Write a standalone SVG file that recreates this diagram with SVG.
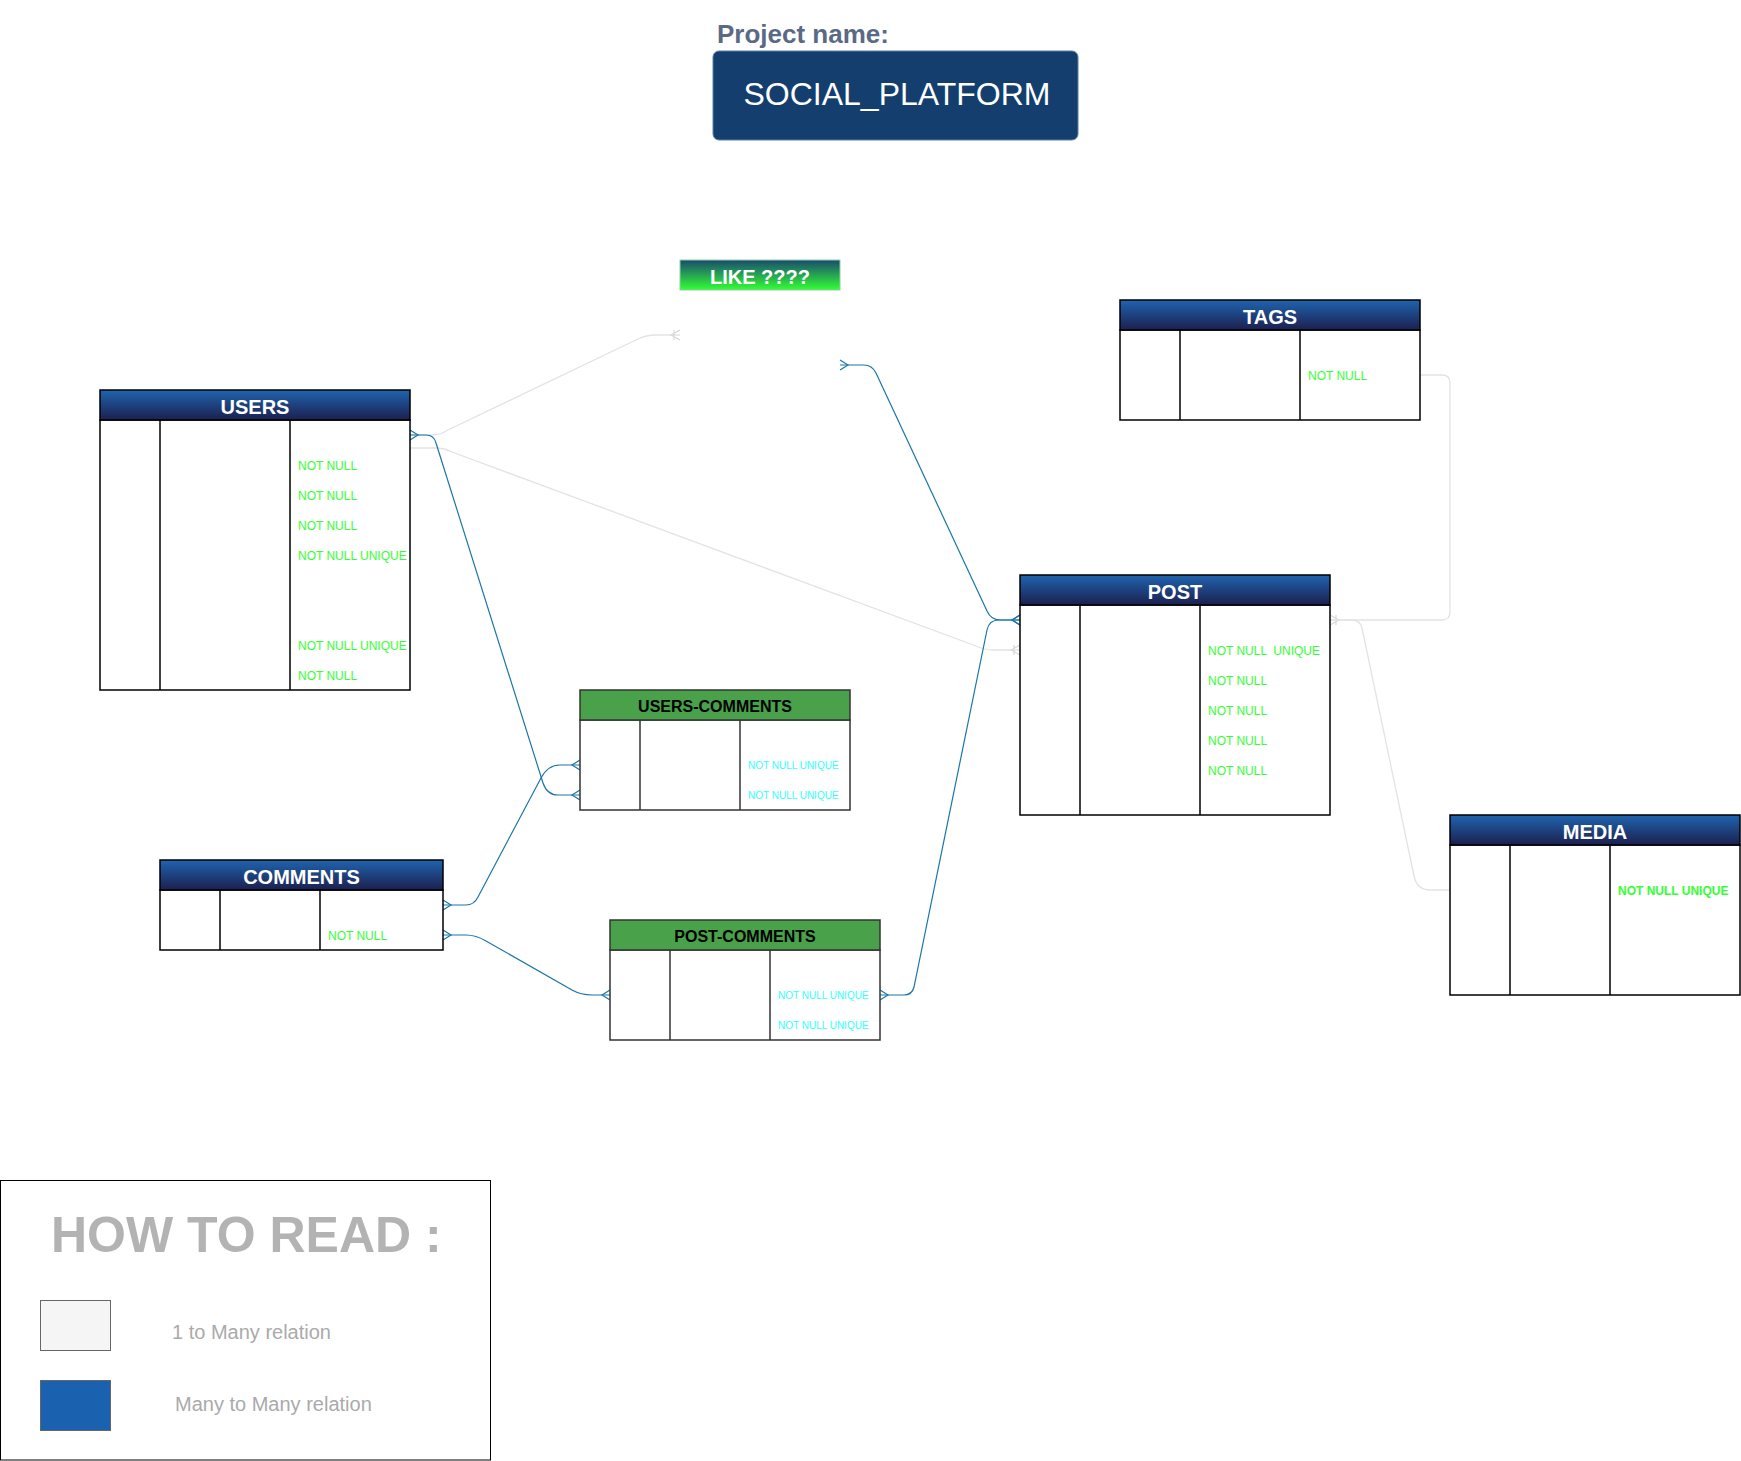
<svg xmlns="http://www.w3.org/2000/svg" width="1741" height="1461" viewBox="0 0 1741 1461">
<style>
text{font-family:"Liberation Sans",Arial,Helvetica,sans-serif}
.hdr{fill:url(#hg);stroke:#000;stroke-width:1.5}
.body{fill:#fff;stroke:#000;stroke-width:1.5}
.col{stroke:#000;stroke-width:1.5}
.ghdr{fill:#49a14a;stroke:#333;stroke-width:1.5}
.gbody{fill:#fff;stroke:#333;stroke-width:1.5}
.gcol{stroke:#333;stroke-width:1.5}
.ht{fill:#fff;font-weight:bold;font-size:20px;text-anchor:middle}
.gt{fill:#000;font-weight:bold;font-size:16px;text-anchor:middle}
.nn{fill:#33ff33;font-size:12px}
.cy{fill:#33ffff;font-size:10px}
.blue{fill:none;stroke:#1a76a6;stroke-width:1.2}
.gray{fill:none;stroke:#e3e3e3;stroke-width:1.3}
</style>
<defs>
<linearGradient id="hg" x1="0" y1="0" x2="0" y2="1">
<stop offset="0" stop-color="#1f64ae"/>
<stop offset="1" stop-color="#1c1f4f"/>
</linearGradient>
<linearGradient id="lg" x1="0" y1="0" x2="0" y2="1">
<stop offset="0" stop-color="#1a4a70"/>
<stop offset="1" stop-color="#33ff33"/>
</linearGradient>
<marker id="mb" viewBox="-12 -7 14 14" markerWidth="14" markerHeight="14" refX="0" refY="0" orient="auto-start-reverse" markerUnits="userSpaceOnUse">
<path d="M0,-5 L-8,0 L0,5" fill="none" stroke="#1a76a6" stroke-width="1.2"/>
</marker>
<marker id="mg" viewBox="-12 -7 14 14" markerWidth="14" markerHeight="14" refX="0" refY="0" orient="auto-start-reverse" markerUnits="userSpaceOnUse">
<path d="M0,-5 L-9,0 L0,5 M-6,-5 L-6,5" fill="none" stroke="#d8d8d8" stroke-width="1.2"/>
</marker>
</defs>
<rect width="1741" height="1461" fill="#fff"/>

<g id="title">
<text x="717" y="43" font-size="26" font-weight="bold" fill="#5a6a86">Project name:</text>
<rect x="713" y="51" width="365" height="89" rx="6" fill="#133e6d" stroke="#5f7fa8" stroke-width="1"/>
<text x="897" y="105" font-size="32" fill="#fff" text-anchor="middle">SOCIAL_PLATFORM</text>
</g>

<g id="connectors">
<path class="gray" d="M410,435 L432,435 Q440,435 448,430 L638,339 Q646,335 656,335 L680,335" marker-end="url(#mg)"/>
<path class="gray" d="M410,448 L436,448 Q444,448 452,452 L976,646 Q984,650 994,650 L1020,650" marker-end="url(#mg)"/>
<path class="gray" d="M1420,375 L1442,375 Q1450,375 1450,383 L1450,612 Q1450,620 1442,620 L1330,620" marker-end="url(#mg)"/>
<path class="gray" d="M1330,620 L1352,620 Q1360,620 1362,628 L1414,876 Q1417,890 1430,890 L1450,890"/>
<path class="blue" d="M410,435 L426,435 Q434,435 436,443 L543,783 Q547,795 558,795 L580,795" marker-start="url(#mb)" marker-end="url(#mb)"/>
<path class="blue" d="M443,905 L466,905 Q474,905 478,897 L541,778 Q548,765 560,765 L580,765" marker-start="url(#mb)" marker-end="url(#mb)"/>
<path class="blue" d="M443,935 L466,935 Q476,935 486,941 L572,990 Q581,995 592,995 L610,995" marker-start="url(#mb)" marker-end="url(#mb)"/>
<path class="blue" d="M880,995 L904,995 Q912,995 914,987 L987,630 Q989,620 999,620 L1020,620" marker-start="url(#mb)" marker-end="url(#mb)"/>
<path class="blue" d="M840,365 L864,365 Q872,365 876,373 L987,611 Q991,620 1000,620 L1020,620" marker-start="url(#mb)" marker-end="url(#mb)"/>
</g>

<g id="like">
<rect x="680" y="260" width="160" height="30" fill="url(#lg)" stroke="#8fcfa0" stroke-width="1"/>
<text x="760" y="284" font-size="20" font-weight="bold" fill="#fff" text-anchor="middle">LIKE ????</text>
</g>

<g id="users">
<rect class="body" x="100" y="420" width="310" height="270"/>
<rect class="hdr" x="100" y="390" width="310" height="30"/>
<line class="col" x1="160" y1="420" x2="160" y2="690"/>
<line class="col" x1="290" y1="420" x2="290" y2="690"/>
<text class="ht" x="255" y="413.5">USERS</text>
<text class="nn" x="298" y="470">NOT NULL</text>
<text class="nn" x="298" y="500">NOT NULL</text>
<text class="nn" x="298" y="530">NOT NULL</text>
<text class="nn" x="298" y="560">NOT NULL UNIQUE</text>
<text class="nn" x="298" y="650">NOT NULL UNIQUE</text>
<text class="nn" x="298" y="680">NOT NULL</text>
</g>

<g id="tags">
<rect class="body" x="1120" y="330" width="300" height="90"/>
<rect class="hdr" x="1120" y="300" width="300" height="30"/>
<line class="col" x1="1180" y1="330" x2="1180" y2="420"/>
<line class="col" x1="1300" y1="330" x2="1300" y2="420"/>
<text class="ht" x="1270" y="323.5">TAGS</text>
<text class="nn" x="1308" y="380">NOT NULL</text>
</g>

<g id="post">
<rect class="body" x="1020" y="605" width="310" height="210"/>
<rect class="hdr" x="1020" y="575" width="310" height="30"/>
<line class="col" x1="1080" y1="605" x2="1080" y2="815"/>
<line class="col" x1="1200" y1="605" x2="1200" y2="815"/>
<text class="ht" x="1175" y="598.5">POST</text>
<text class="nn" x="1208" y="655" xml:space="preserve">NOT NULL  UNIQUE</text>
<text class="nn" x="1208" y="685">NOT NULL</text>
<text class="nn" x="1208" y="715">NOT NULL</text>
<text class="nn" x="1208" y="745">NOT NULL</text>
<text class="nn" x="1208" y="775">NOT NULL</text>
</g>

<g id="users-comments">
<rect class="gbody" x="580" y="720" width="270" height="90"/>
<rect class="ghdr" x="580" y="690" width="270" height="30"/>
<line class="gcol" x1="640" y1="720" x2="640" y2="810"/>
<line class="gcol" x1="740" y1="720" x2="740" y2="810"/>
<text class="gt" x="715" y="712">USERS-COMMENTS</text>
<text class="cy" x="748" y="769">NOT NULL UNIQUE</text>
<text class="cy" x="748" y="799">NOT NULL UNIQUE</text>
</g>

<g id="comments">
<rect class="body" x="160" y="890" width="283" height="60"/>
<rect class="hdr" x="160" y="860" width="283" height="30"/>
<line class="col" x1="220" y1="890" x2="220" y2="950"/>
<line class="col" x1="320" y1="890" x2="320" y2="950"/>
<text class="ht" x="301.5" y="883.5">COMMENTS</text>
<text class="nn" x="328" y="940">NOT NULL</text>
</g>

<g id="post-comments">
<rect class="gbody" x="610" y="950" width="270" height="90"/>
<rect class="ghdr" x="610" y="920" width="270" height="30"/>
<line class="gcol" x1="670" y1="950" x2="670" y2="1040"/>
<line class="gcol" x1="770" y1="950" x2="770" y2="1040"/>
<text class="gt" x="745" y="942">POST-COMMENTS</text>
<text class="cy" x="778" y="999">NOT NULL UNIQUE</text>
<text class="cy" x="778" y="1029">NOT NULL UNIQUE</text>
</g>

<g id="media">
<rect class="body" x="1450" y="845" width="290" height="150"/>
<rect class="hdr" x="1450" y="815" width="290" height="30"/>
<line class="col" x1="1510" y1="845" x2="1510" y2="995"/>
<line class="col" x1="1610" y1="845" x2="1610" y2="995"/>
<text class="ht" x="1595" y="838.5">MEDIA</text>
<text class="nn" x="1618" y="895" font-weight="bold">NOT NULL UNIQUE</text>
</g>

<g id="legend">
<rect x="0.5" y="1180.5" width="490" height="279.5" fill="#fff" stroke="#000" stroke-width="1"/>
<text x="51" y="1252" font-size="50" font-weight="bold" fill="#b3b3b3">HOW TO READ :</text>
<rect x="40.5" y="1300.5" width="70" height="50" fill="#f5f5f5" stroke="#666" stroke-width="1"/>
<text x="172" y="1339" font-size="20" fill="#aaaaaa">1 to Many relation</text>
<rect x="40.5" y="1380.5" width="70" height="50" fill="#1a62b0" stroke="#666" stroke-width="1"/>
<text x="175" y="1411" font-size="20" fill="#aaaaaa">Many to Many relation</text>
</g>
</svg>
